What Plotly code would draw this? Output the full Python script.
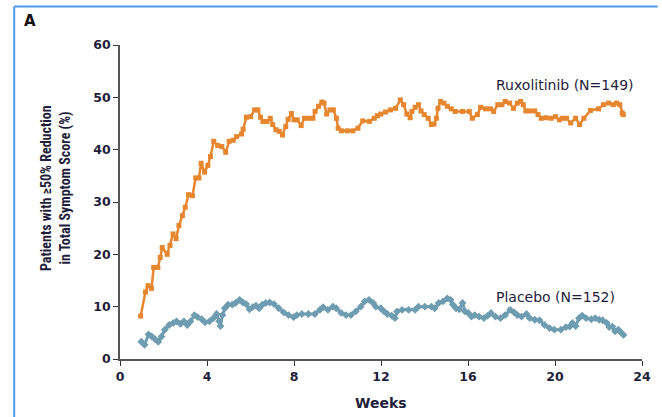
import plotly.graph_objects as go

# Ruxolitinib arm: proportion of patients with >=50% TSS reduction, by week
ruxo_weeks = [0.95, 1.17, 1.29, 1.45, 1.55, 1.74, 1.85, 1.94, 2.17, 2.30, 2.44, 2.58, 2.71, 2.87,
              3.00, 3.15, 3.33, 3.48, 3.63, 3.73, 3.89, 4.04, 4.16, 4.31, 4.49, 4.68, 4.86, 5.02,
              5.21, 5.36, 5.59, 5.66, 5.81, 6.01, 6.19, 6.34, 6.46, 6.57, 6.76, 6.91, 7.02, 7.17,
              7.32, 7.47, 7.62, 7.73, 7.88, 8.00, 8.15, 8.33, 8.48, 8.68, 8.87, 8.97, 9.13, 9.28,
              9.38, 9.50, 9.65, 9.81, 9.95, 10.03, 10.18, 10.45, 10.71, 10.94, 11.16, 11.46, 11.69,
              11.84, 11.99, 12.21, 12.44, 12.67, 12.89, 13.04, 13.19, 13.34, 13.42, 13.57, 13.72,
              13.84, 13.99, 14.17, 14.32, 14.44, 14.55, 14.62, 14.74, 14.89, 15.05, 15.23, 15.41,
              15.75, 16.06, 16.20, 16.43, 16.58, 16.81, 17.04, 17.18, 17.37, 17.56, 17.71, 17.91,
              18.09, 18.27, 18.42, 18.54, 18.66, 18.84, 19.07, 19.22, 19.37, 19.59, 19.82, 20.02,
              20.20, 20.35, 20.53, 20.72, 20.95, 21.13, 21.33, 21.63, 22.00, 22.23, 22.46, 22.68,
              22.83, 22.98, 23.09, 23.14]
ruxo_pct = [8.2, 12.8, 14.0, 13.5, 17.5, 17.5, 19.4, 21.3, 20.0, 21.7, 23.9, 23.0, 25.5, 27.4,
            29.0, 31.4, 31.2, 34.6, 34.6, 37.4, 35.7, 37.0, 38.7, 41.6, 40.8, 40.6, 39.5, 41.6,
            41.8, 42.5, 43.0, 43.9, 46.2, 46.3, 47.6, 47.6, 46.2, 45.4, 45.4, 46.0, 44.8, 43.8,
            43.5, 42.8, 44.4, 45.8, 46.9, 45.7, 45.7, 44.6, 46.0, 46.0, 46.0, 47.3, 48.3, 49.1,
            48.9, 46.8, 47.6, 47.6, 46.0, 44.1, 43.6, 43.6, 43.6, 44.1, 45.5, 45.4, 46.0,
            46.5, 46.8, 47.2, 47.6, 47.9, 49.5, 48.6, 46.8, 46.1, 47.3, 48.1, 48.6,
            47.4, 46.7, 46.0, 44.8, 44.9, 46.0, 47.9, 49.2, 48.9, 48.3, 47.8, 47.3,
            47.3, 47.3, 46.0, 46.7, 48.1, 47.8, 47.8, 47.3, 48.6, 48.6, 49.2, 48.9,
            47.9, 48.9, 49.2, 48.6, 47.4, 47.4, 47.4, 46.7, 46.0, 46.1, 46.0, 46.3,
            45.7, 46.0, 46.0, 45.1, 46.0, 44.8, 46.0, 47.5, 47.8, 48.6, 48.9, 48.6,
            48.9, 48.6, 47.0, 46.7]

# Placebo arm
plac_weeks = [0.98, 1.13, 1.31, 1.46, 1.61, 1.76, 1.91, 2.06, 2.26, 2.45, 2.60, 2.78, 2.94, 3.09,
              3.24, 3.42, 3.57, 3.76, 3.91, 4.11, 4.29, 4.44, 4.56, 4.62, 4.71, 4.82, 4.97, 5.16,
              5.31, 5.50, 5.65, 5.80, 5.95, 6.10, 6.25, 6.40, 6.55, 6.70, 6.88, 7.08, 7.30, 7.53,
              7.75, 7.98, 8.13, 8.36, 8.66, 8.96, 9.19, 9.34, 9.56, 9.79, 9.94, 10.17, 10.39,
              10.62, 10.84, 11.07, 11.25, 11.45, 11.64, 11.76, 11.99, 12.14, 12.29, 12.49, 12.64,
              12.74, 12.97, 13.27, 13.57, 13.72, 14.02, 14.32, 14.47, 14.65, 14.85, 15.05, 15.20,
              15.30, 15.45, 15.60, 15.75, 15.86, 16.01, 16.16, 16.31, 16.51, 16.73, 16.91, 17.06,
              17.26, 17.49, 17.71, 17.94, 18.12, 18.27, 18.46, 18.69, 18.84, 19.07, 19.29, 19.52,
              19.75, 19.97, 20.27, 20.50, 20.68, 20.80, 20.95, 21.10, 21.25, 21.43, 21.67, 21.85,
              22.03, 22.19, 22.38, 22.49, 22.64, 22.76, 22.91, 23.03, 23.15]
plac_pct = [3.3, 2.7, 4.7, 4.3, 3.8, 3.3, 4.3, 5.6, 6.5, 6.9, 7.2, 6.7, 7.2, 6.5,
            7.2, 8.4, 8.0, 7.6, 7.0, 7.2, 7.8, 8.6, 7.2, 6.3, 8.4, 9.7, 10.4, 10.4,
            10.7, 11.3, 10.8, 10.5, 9.5, 9.9, 10.2, 9.7, 10.4, 10.7, 10.8, 10.5, 9.7, 8.9,
            8.4, 8.0, 8.4, 8.6, 8.6, 8.6, 9.4, 9.9, 9.4, 10.0, 9.7, 8.8, 8.4,
            8.4, 9.1, 10.0, 11.0, 11.3, 10.7, 10.0, 9.7, 9.1, 8.6, 8.3, 7.8,
            9.1, 9.4, 9.4, 9.4, 10.0, 10.0, 10.0, 9.7, 10.7, 11.0, 11.6, 11.3,
            10.4, 9.7, 9.5, 10.7, 9.1, 8.8, 8.1, 8.4, 8.1, 7.8, 8.3, 8.8,
            8.1, 7.8, 8.4, 9.4, 8.9, 8.4, 8.1, 8.6, 7.8, 7.5, 7.4, 6.5,
            5.9, 5.6, 5.6, 6.1, 6.2, 6.9, 6.3, 7.8, 8.3, 7.8, 7.6, 7.8,
            7.5, 7.4, 6.9, 6.1, 6.2, 5.3, 5.6, 5.1, 4.6]

week_ticks = [0, 4, 8, 12, 16, 20, 24]
pct_ticks = [0, 10, 20, 30, 40, 50, 60]

ORANGE = "#E6862E"
SLATE = "#6E9CB0"
INK = "#1E1E3A"
FONT = "DejaVu Sans"
NARROW = "Liberation Sans Narrow, Roboto Condensed, Roboto"

fig = go.Figure()
fig.add_trace(go.Scatter(
    x=plac_weeks, y=plac_pct, mode="lines+markers",
    line=dict(color=SLATE, width=3),
    marker=dict(symbol="diamond", size=6, color=SLATE),
    showlegend=False, hoverinfo="skip"))
fig.add_trace(go.Scatter(
    x=ruxo_weeks, y=ruxo_pct, mode="lines+markers",
    line=dict(color=ORANGE, width=2.5),
    marker=dict(symbol="square", size=5, color=ORANGE),
    showlegend=False, hoverinfo="skip"))

axis_common = dict(
    showgrid=False, zeroline=False, showline=True, linecolor="#555555", linewidth=1.5,
    ticks="outside", ticklen=5, tickwidth=1.3, tickcolor="#333333",
    tickfont=dict(family=FONT, size=12.5, color=INK, weight="bold"),
)
fig.update_xaxes(range=[0, 24], tickvals=week_ticks, **axis_common)
fig.update_yaxes(range=[0, 60], tickvals=pct_ticks, **axis_common)

annotations = [
    dict(x=17.18, y=52.4, xref="x", yref="y", text="Ruxolitinib (N=149)", showarrow=False,
         xanchor="left", yanchor="middle", font=dict(family=FONT, size=14, color=INK)),
    dict(x=17.18, y=11.9, xref="x", yref="y", text="Placebo (N=152)", showarrow=False,
         xanchor="left", yanchor="middle", font=dict(family=FONT, size=14, color=INK)),
    # y-axis title, two rotated lines
    dict(x=-0.1415, y=0.545, xref="paper", yref="paper", textangle=-90, showarrow=False,
         text="Patients with ≥50% Reduction", xanchor="center", yanchor="middle",
         font=dict(family=NARROW, size=14, color=INK, weight="bold")),
    dict(x=-0.104, y=0.545, xref="paper", yref="paper", textangle=-90, showarrow=False,
         text="in Total Symptom Score (%)", xanchor="center", yanchor="middle",
         font=dict(family=NARROW, size=14, color=INK, weight="bold")),
    dict(x=0.5, y=-0.14, xref="paper", yref="paper", text="Weeks", showarrow=False,
         xanchor="center", yanchor="middle",
         font=dict(family=FONT, size=14, color=INK, weight="bold")),
    dict(x=-0.1726, y=1.0764, xref="paper", yref="paper", text="A", showarrow=False,
         xanchor="center", yanchor="middle",
         font=dict(family=FONT, size=15, color="#111111", weight="bold")),
]

# Panel frame (left and top edges)
frame = dict(color="#4F9BE8", width=2)
shapes = [
    dict(type="line", xref="paper", yref="paper", x0=-0.2027, x1=-0.2027, y0=-0.2, y1=1.1226, line=frame),
    dict(type="line", xref="paper", yref="paper", x0=-0.2027, x1=1.03, y0=1.1226, y1=1.1226, line=frame),
]

fig.update_layout(
    width=662, height=417, autosize=False,
    margin=dict(l=120, r=11, t=45, b=58),
    paper_bgcolor="white", plot_bgcolor="white",
    annotations=annotations, shapes=shapes,
)

fig.write_html("out.html")
